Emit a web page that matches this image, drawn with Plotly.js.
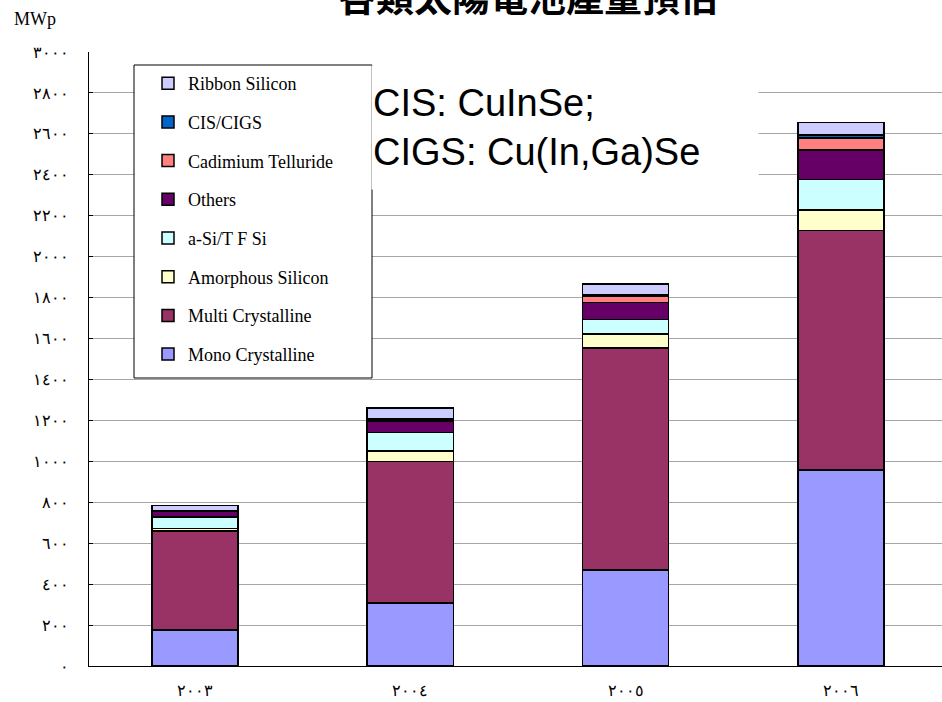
<!DOCTYPE html>
<html>
<head>
<meta charset="utf-8">
<script src="https://cdn.plot.ly/plotly-3.0.1.min.js"></script>
<style>html,body{margin:0;padding:0;background:#fff;}#chart{width:942px;height:702px;}</style>
</head>
<body>
<div id="chart"></div>
<script>
// Data (MWp)
var years = ['2003', '2004', '2005', '2006'];
var yearLabels = ['٢٠٠٣', '٢٠٠٤', '٢٠٠٥', '٢٠٠٦'];
var yTickVals = [0, 200, 400, 600, 800, 1000, 1200, 1400, 1600, 1800, 2000, 2200, 2400, 2600, 2800, 3000];
var yTickLabels = ['٠', '٢٠٠', '٤٠٠', '٦٠٠', '٨٠٠', '١٠٠٠', '١٢٠٠', '١٤٠٠', '١٦٠٠', '١٨٠٠', '٢٠٠٠', '٢٢٠٠', '٢٤٠٠', '٢٦٠٠', '٢٨٠٠', '٣٠٠٠'];

var monoCrystalline   = [176, 309, 469, 957];
var multiCrystalline  = [484, 689, 1084, 1170];
var amorphousSilicon  = [12, 52, 70, 100];
var aSiTFSi           = [57, 90, 70, 150];
var others            = [27, 57, 82, 143];
var cadmiumTelluride  = [2, 8, 33, 60];
var cisCigs           = [1, 3, 7, 15];
var ribbonSilicon     = [26, 52, 52, 60];

var seriesNames = ['Mono Crystalline', 'Multi Crystalline', 'Amorphous Silicon', 'a-Si/T F Si', 'Others', 'Cadimium Telluride', 'CIS/CIGS', 'Ribbon Silicon'];
var seriesValues = [monoCrystalline, multiCrystalline, amorphousSilicon, aSiTFSi, others, cadmiumTelluride, cisCigs, ribbonSilicon];
var seriesColors = ['#9999FF', '#993366', '#FFFFCC', '#CCFFFF', '#660066', '#FF8080', '#0066CC', '#CCCCFF'];

var xIdx = years.map(function (d, i) { return i; });

var traces = seriesNames.map(function (name, k) {
  return {
    type: 'bar',
    name: name,
    x: xIdx,
    y: seriesValues[k],
    width: 0.4,
    legendgroup: 'g' + k,
    legendrank: seriesNames.length - k,
    marker: { color: seriesColors[k], line: { color: '#000000', width: 1.5 } },
    hoverinfo: 'name+y'
  };
});

var serif = '"Liberation Serif", "Times New Roman", "DejaVu Serif", serif';

// pixel -> paper helpers (plot area: x 89..942, y 52..666)
function px(x) { return (x - 89) / 853; }
function py(y) { return (666 - y) / 614; }

var layout = {
  width: 942,
  height: 702,
  paper_bgcolor: '#ffffff',
  plot_bgcolor: '#ffffff',
  barmode: 'stack',
  margin: { l: 89, r: 0, t: 52, b: 36, pad: 0 },
  showlegend: true,
  legend: {
    x: px(148), y: py(65), xanchor: 'left', yanchor: 'top',
    bgcolor: 'rgba(0,0,0,0)', borderwidth: 0,
    font: { family: serif, size: 18, color: '#000000' },
    traceorder: 'grouped',
    tracegroupgap: 12.3,
    itemclick: false
  },
  xaxis: {
    range: [-0.492, 3.469],
    tickmode: 'array',
    tickvals: xIdx,
    ticktext: yearLabels,
    showgrid: false,
    zeroline: false,
    showline: true,
    linecolor: '#000000',
    linewidth: 1,
    ticks: '',
    tickfont: { family: serif, size: 16, color: '#000000' },
    ticklabelstandoff: 10,
    fixedrange: true
  },
  yaxis: {
    range: [0, 3000],
    tickmode: 'array',
    tickvals: yTickVals,
    ticktext: yTickLabels,
    showgrid: true,
    gridcolor: '#a6a6a6',
    gridwidth: 1,
    zeroline: false,
    showline: true,
    linecolor: '#000000',
    linewidth: 1,
    ticks: 'inside',
    ticklen: 4,
    tickcolor: '#000000',
    tickfont: { family: serif, size: 16, color: '#000000' },
    ticklabelstandoff: 16,
    fixedrange: true
  },
  shapes: [
    {
      type: 'rect', xref: 'paper', yref: 'paper', layer: 'above',
      x0: px(134), x1: px(372), y0: py(378), y1: py(65),
      fillcolor: '#ffffff', line: { color: '#000000', width: 1 }
    }
  ],
  annotations: [
    {
      text: '<b>各類太陽電池產量預估</b>',
      xref: 'paper', yref: 'paper',
      x: px(528), y: py(-5),
      xanchor: 'center', yanchor: 'middle',
      showarrow: false,
      font: { family: '"Noto Sans CJK TC", "Noto Sans CJK SC", sans-serif', size: 38, color: '#000000' }
    },
    {
      text: 'MWp',
      xref: 'paper', yref: 'paper',
      x: px(12), y: py(19),
      xanchor: 'left', yanchor: 'middle',
      showarrow: false,
      font: { family: serif, size: 18, color: '#000000' }
    },
    {
      text: 'CIS: CuInSe;<br>CIGS: Cu(In,Ga)Se',
      xref: 'paper', yref: 'paper',
      x: px(371), y: py(65),
      xanchor: 'left', yanchor: 'top',
      width: 384, height: 121,
      align: 'left', valign: 'middle',
      showarrow: false,
      bgcolor: '#ffffff',
      borderpad: 1,
      font: { family: '"Liberation Sans", Arial, sans-serif', size: 38, color: '#000000' }
    }
  ]
};

Plotly.newPlot('chart', traces, layout, { displayModeBar: false, staticPlot: true });
</script>
</body>
</html>
